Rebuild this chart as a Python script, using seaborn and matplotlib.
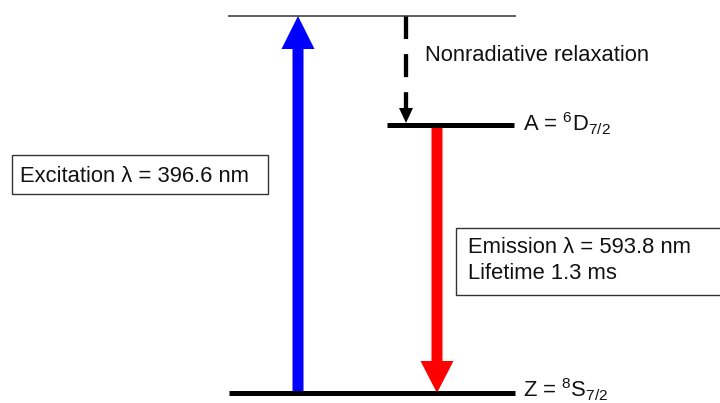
import matplotlib
matplotlib.use("Agg")
import matplotlib.pyplot as plt
import matplotlib.transforms as mtransforms
from matplotlib.patches import FancyArrow, Rectangle
import seaborn as sns

# Relative energies of the three levels (ground state = 0, pumped level = 1)
level_keys = ["Z", "A", "pump"]
level_energy = [0.0, 0.711, 1.0]
level_labels = [r"Z = $\mathregular{^8S_{7/2}}$", r"A = $\mathregular{^6D_{7/2}}$", ""]

excitation_nm = 396.6
emission_nm = 593.8
lifetime_ms = 1.3

sns.set_theme(style="white")
plt.rcParams["font.family"] = ["Liberation Sans", "DejaVu Sans"]
plt.rcParams["mathtext.fontset"] = "custom"
plt.rcParams["mathtext.rm"] = "Liberation Sans"
plt.rcParams["mathtext.it"] = "Liberation Sans:italic"

W, H = 720, 403
fig = plt.figure(figsize=(W / 100, H / 100), dpi=100)
ax = fig.add_axes([0, 0, 1, 1])
ax.set_xlim(0, W)
y_lo, y_hi = -10 / 377, 393 / 377
ax.set_ylim(y_lo, y_hi)
ax.axis("off")

px = (y_hi - y_lo) / H  # energy units per pixel
# pixel-based layout transform (origin top-left) for text and boxes
layout = mtransforms.Affine2D().scale(1 / W, -1 / H).translate(0, 1) + fig.transFigure

E = dict(zip(level_keys, level_energy))
TXT = "#111111"
FS = 15.8

# --- transitions -----------------------------------------------------------
# excitation Z -> pump
ax.add_patch(FancyArrow(298, E["Z"], 0, E["pump"] - E["Z"], width=11,
                        head_width=33, head_length=33 * px,
                        length_includes_head=True, color="#0000ff", lw=0))
# emission A -> Z
start = E["A"] - 2.7 * px
ax.add_patch(FancyArrow(437, start, 0, E["Z"] - start, width=11,
                        head_width=33, head_length=32 * px,
                        length_includes_head=True, color="#ff0000", lw=0))
# nonradiative relaxation pump -> A (dashed)
head_top = E["A"] + 17 * px
ax.plot([406, 406], [E["pump"], head_top], color="black", lw=3.1,
        dashes=(5.35, 3.5), dash_capstyle="butt", solid_capstyle="butt")
ax.add_patch(FancyArrow(406, head_top, 0, -15 * px, width=0,
                        head_width=14, head_length=15 * px,
                        length_includes_head=True, color="black", lw=0))

# --- energy levels ---------------------------------------------------------
level_span = {"Z": (229, 515), "A": (387, 514), "pump": (228, 516)}
level_lw = {"Z": 3.6, "A": 3.6, "pump": 1.1}
level_color = {"Z": "black", "A": "black", "pump": "#333333"}
for key in level_keys:
    x0, x1 = level_span[key]
    line = sns.lineplot(x=[x0, x1], y=[E[key], E[key]], ax=ax,
                        color=level_color[key], linewidth=level_lw[key],
                        estimator=None, sort=False)
    line.lines[-1].set_solid_capstyle("butt")

# level labels
label_pos = {"Z": (523, 397.5), "A": (523, 131.7)}
for key, lab in zip(level_keys, level_labels):
    if lab:
        x, y = label_pos[key]
        ax.text(x, y, lab, transform=layout, fontsize=FS, color=TXT,
                va="baseline", ha="left")

# --- annotations -----------------------------------------------------------
ax.text(425, 61, "Nonradiative relaxation", transform=layout, fontsize=FS,
        color=TXT, va="baseline", ha="left")

ax.add_patch(Rectangle((11.5, 155), 256.5, 39, transform=layout,
                       facecolor="white", edgecolor="#333333", lw=1.0))
ax.text(20, 182, f"Excitation λ = {excitation_nm} nm", transform=layout,
        fontsize=FS, color=TXT, va="baseline", ha="left")

ax.add_patch(Rectangle((456, 227.5), 280, 67.5, transform=layout,
                       facecolor="white", edgecolor="#333333", lw=1.0))
ax.text(468, 253, f"Emission λ = {emission_nm} nm", transform=layout,
        fontsize=FS, color=TXT, va="baseline", ha="left")
ax.text(468, 279, f"Lifetime {lifetime_ms} ms", transform=layout,
        fontsize=FS, color=TXT, va="baseline", ha="left")

fig.savefig("out.png", dpi=100)
